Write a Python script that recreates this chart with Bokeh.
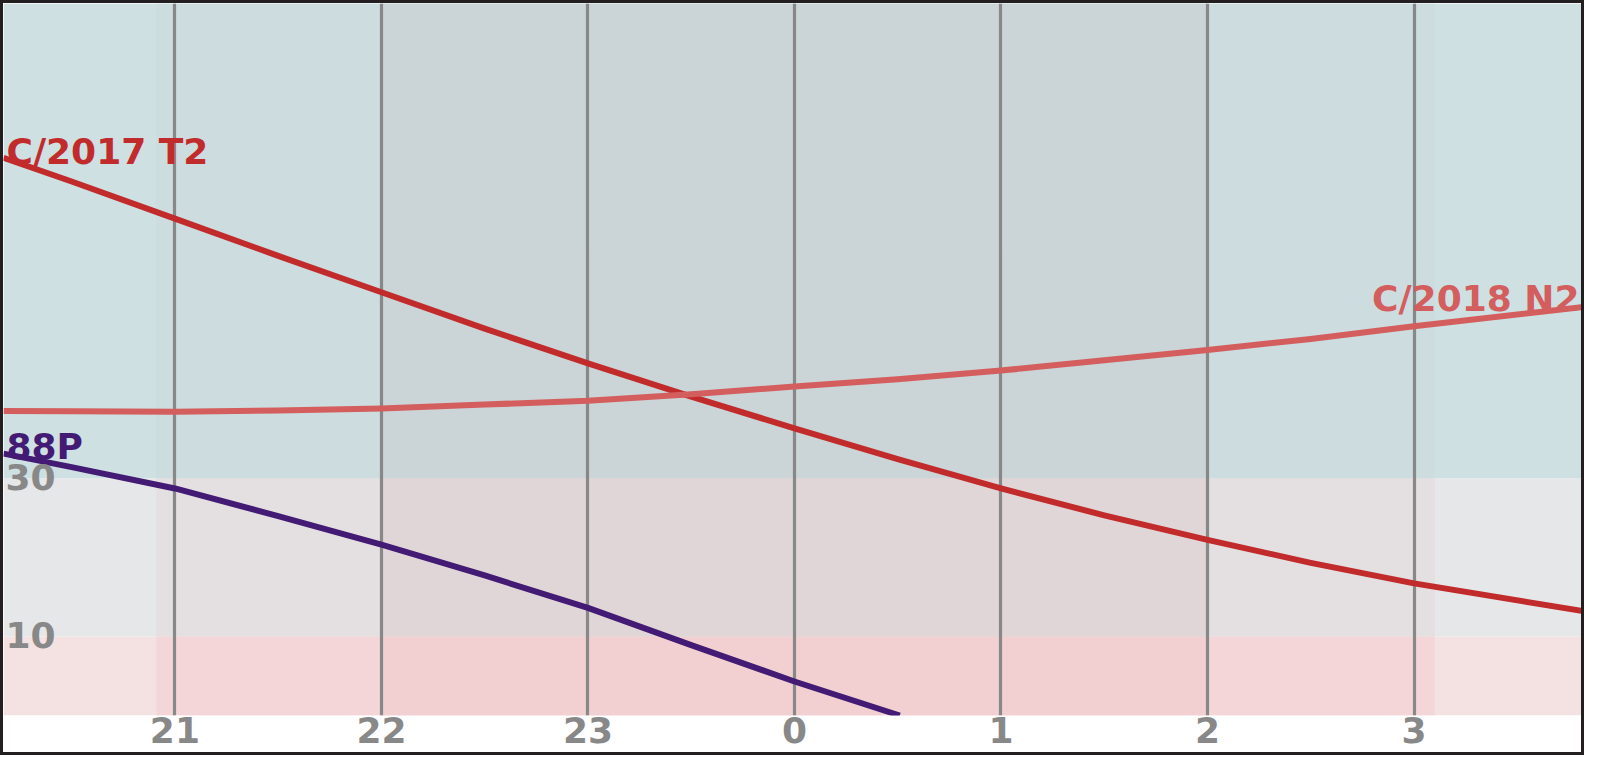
from bokeh.plotting import figure
from bokeh.models import Range1d, FixedTicker
from bokeh.core.properties import value
from bokeh.embed import file_html
from bokeh.resources import INLINE

# ---------------- data ----------------
x_start, x_end = 20.17, 27.84
alt_min, alt_max = 0, 90

hour_ticks = [21, 22, 23, 24, 25, 26, 27]
hour_labels = ["21", "22", "23", "0", "1", "2", "3"]
alt_ticks = [10, 30]
alt_tick_labels = ["10", "30"]

# altitude bands (deg) and their colours: outside, twilight, night
band_bottoms = [0, 10, 30]
band_tops = [10, 30, 90]
band_base_colors = ["#F4E1E2", "#E6E7E9", "#CEE0E2"]
band_twilight_colors = ["#F4D6D8", "#E4DFE0", "#CCDCDF"]
band_night_colors = ["#F2CFD1", "#E1D6D7", "#CBD4D7"]
twilight_start, twilight_end = 20.91, 27.10
night_start, night_end = 22.0, 26.0

t2_time = [20.17, 20.5, 21, 21.5, 22, 22.5, 23, 23.5, 24, 24.5, 25, 25.5, 26, 26.5, 27, 27.84]
t2_alt = [70.5, 67.5, 62.8, 58.1, 53.5, 48.9, 44.5, 40.3, 36.3, 32.4, 28.7, 25.3, 22.2, 19.3, 16.7, 13.1]

n2_time = [20.17, 20.5, 21, 21.5, 22, 22.5, 23, 23.5, 24, 24.5, 25, 25.5, 26, 26.5, 27, 27.84]
n2_alt = [38.5, 38.45, 38.4, 38.55, 38.8, 39.3, 39.8, 40.6, 41.6, 42.5, 43.6, 44.9, 46.2, 47.6, 49.2, 51.7]

p88_time = [20.17, 20.5, 21, 21.5, 22, 22.5, 23, 23.5, 24, 24.51]
p88_alt = [33.1, 31.4, 28.7, 25.2, 21.6, 17.7, 13.6, 8.9, 4.3, 0.0]

names = ["C/2017 T2", "C/2018 N2", "88P"]
colors = ["#C22B2B", "#D45D5D", "#431A74"]

FONT = value("DejaVu Sans")
GRAY = "#888888"

p = figure(width=1578, height=749, output_backend="svg", toolbar_location=None,
           x_range=Range1d(x_start, x_end), y_range=Range1d(alt_min, alt_max),
           min_border_left=0, min_border_right=0, min_border_top=0, min_border_bottom=43,
           outline_line_color=None, background_fill_color="white", border_fill_color="white")
p.styles = {"border": "3px solid #231F20", "box-sizing": "content-box"}

# background bands
n = len(band_bottoms)
p.quad(left=[x_start] * n, right=[x_end] * n, bottom=band_bottoms, top=band_tops,
       fill_color=band_base_colors, line_color=None, level="image")
p.quad(left=[twilight_start] * n, right=[twilight_end] * n, bottom=band_bottoms, top=band_tops,
       fill_color=band_twilight_colors, line_color=None, level="image")
p.quad(left=[night_start] * n, right=[night_end] * n, bottom=band_bottoms, top=band_tops,
       fill_color=band_night_colors, line_color=None, level="image")

# grid
p.xgrid.ticker = FixedTicker(ticks=hour_ticks)
p.xgrid.grid_line_color = GRAY
p.xgrid.grid_line_width = 3.2
p.xgrid.grid_line_alpha = 1.0
p.ygrid.visible = False

# axes
p.yaxis.visible = False
xa = p.xaxis[0]
xa.ticker = FixedTicker(ticks=hour_ticks)
xa.major_label_overrides = {t: l for t, l in zip(hour_ticks, hour_labels)}
xa.axis_line_color = None
xa.major_tick_line_color = None
xa.minor_tick_line_color = None
xa.major_tick_out = 0
xa.major_tick_in = 0
xa.major_label_standoff = 1
xa.major_label_text_font = "DejaVu Sans"
xa.major_label_text_font_style = "bold"
xa.major_label_text_font_size = "36px"
xa.major_label_text_color = GRAY

# curves
series = [(t2_time, t2_alt), (n2_time, n2_alt), (p88_time, p88_alt)]
for (tx, ty), c in zip(series, colors):
    p.line(tx, ty, line_color=c, line_width=6, line_cap="butt", line_join="round")

# y tick labels inside the plot
p.text(x=[x_start] * len(alt_ticks), y=alt_ticks, text=alt_tick_labels,
       text_font=FONT, text_font_style="bold", text_font_size="36px",
       text_color=GRAY, text_align="left", text_baseline="middle",
       x_offset=2, y_offset=-1)

# series labels
p.text(x=[t2_time[0]], y=[t2_alt[0]], text=[names[0]], text_font=FONT,
       text_font_style="bold", text_font_size="36px", text_color=colors[0],
       text_align="left", text_baseline="alphabetic", x_offset=3, y_offset=-6)
p.text(x=[n2_time[-1]], y=[n2_alt[-1]], text=[names[1]], text_font=FONT,
       text_font_style="bold", text_font_size="36px", text_color=colors[1],
       text_align="right", text_baseline="alphabetic", x_offset=-8, y_offset=-8)
p.text(x=[p88_time[0]], y=[p88_alt[0]], text=[names[2]], text_font=FONT,
       text_font_style="bold", text_font_size="36px", text_color=colors[2],
       text_align="left", text_baseline="alphabetic", x_offset=3, y_offset=-7)

open("out.html", "w").write(file_html(p, INLINE))
